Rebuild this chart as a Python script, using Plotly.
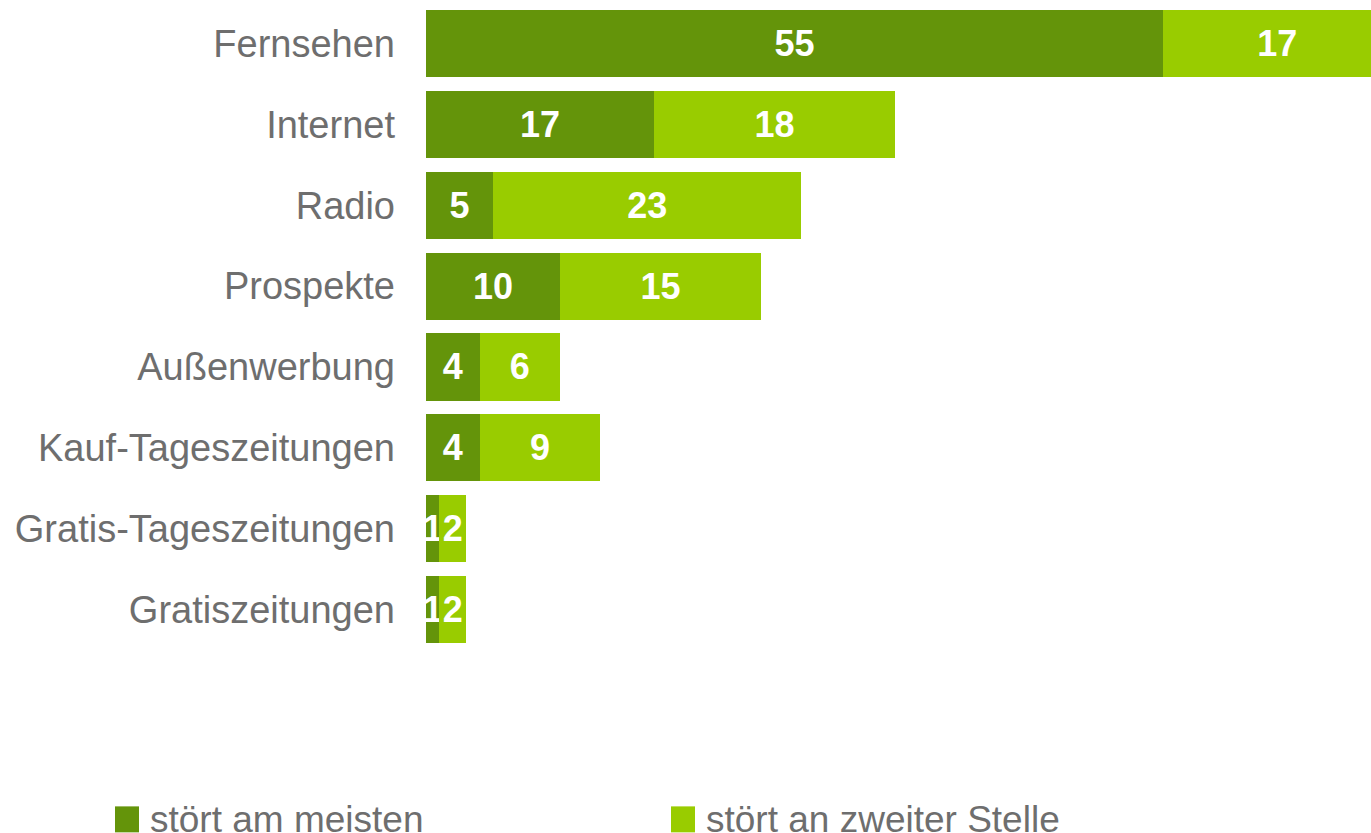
import plotly.graph_objects as go

# Media categories (top to bottom) and the two rating shares in percent
categories = ["Fernsehen", "Internet", "Radio", "Prospekte", "Außenwerbung",
              "Kauf-Tageszeitungen", "Gratis-Tageszeitungen", "Gratiszeitungen"]
most_annoying = [55, 17, 5, 10, 4, 4, 1, 1]
second_place = [17, 18, 23, 15, 6, 9, 2, 2]
series_names = ["stört am meisten", "stört an zweiter Stelle"]
series_colors = ["#64940A", "#99CC00"]

FONT = "Liberation Sans, Arial, sans-serif"
TEXT_GREY = "#6E6E6E"

fig = go.Figure()
for name, vals, col in zip(series_names, [most_annoying, second_place], series_colors):
    fig.add_trace(go.Bar(
        y=categories, x=vals, name=name, orientation="h",
        marker=dict(color=col, line=dict(width=0)),
        text=[str(v) for v in vals], textposition="inside",
        insidetextanchor="middle", constraintext="none",
        textfont=dict(family=FONT, size=36, color="white", weight="bold"),
        showlegend=False,
    ))

# Legend drawn as squares + labels below the plot
legend_x = [115, 671]
for (name, col, lx) in zip(series_names, series_colors, legend_x):
    fig.add_shape(type="rect", xref="paper", yref="paper",
                  x0=(lx - 426) / 945, x1=(lx + 24 - 426) / 945,
                  y0=(650.5 - 833) / 647.5, y1=(650.5 - 807) / 647.5,
                  fillcolor=col, line=dict(width=0))
    fig.add_annotation(text=name, xref="paper", yref="paper",
                       x=(lx + 33 - 426) / 945, y=(650.5 - 798) / 647.5,
                       xanchor="left", yanchor="top", showarrow=False,
                       font=dict(family=FONT, size=37, color=TEXT_GREY))

fig.update_layout(
    barmode="stack", bargap=0.17,
    width=1371, height=833,
    margin=dict(l=426, r=0, t=3, b=182.5, pad=0),
    paper_bgcolor="white", plot_bgcolor="white",
    uniformtext=dict(minsize=36, mode="show"),
    xaxis=dict(range=[0, 70.5], visible=False, fixedrange=True),
    yaxis=dict(autorange="reversed", showgrid=False, zeroline=False, showline=False,
               ticks="", ticklabelstandoff=30,
               tickfont=dict(family=FONT, size=38, color=TEXT_GREY)),
)

fig.write_html("out.html")
